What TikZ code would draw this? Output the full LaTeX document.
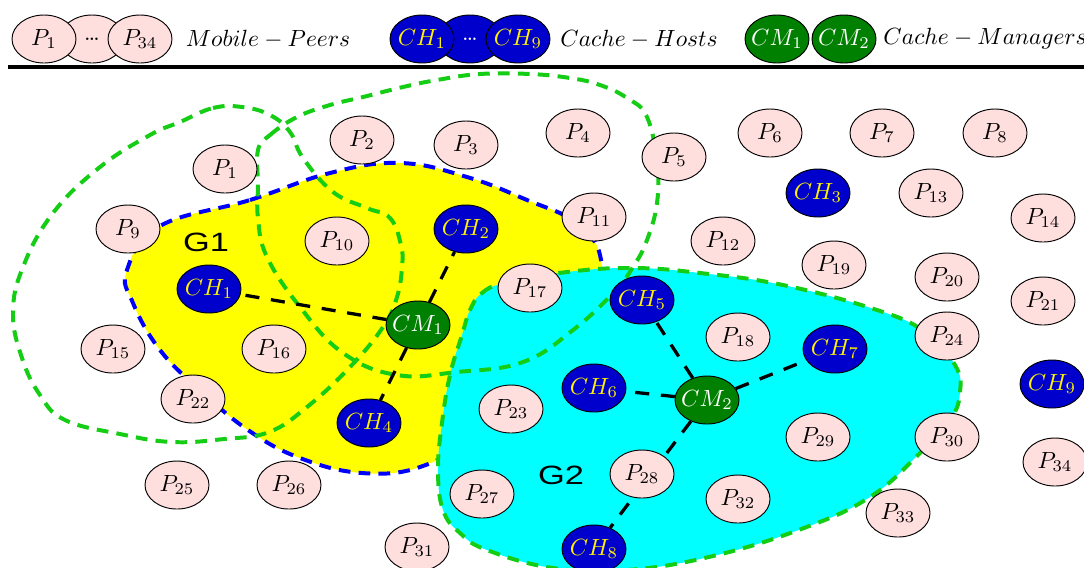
\documentclass[tikz,border=0pt]{standalone}
\usepackage{amsmath}
\usepackage{fontspec}
\newfontfamily\grpfont{Liberation Sans}
\usepackage{xcolor}
\definecolor{peerpink}{RGB}{255,222,222}
\definecolor{hostblue}{RGB}{0,0,204}
\definecolor{mgrgreen}{RGB}{0,128,0}
\definecolor{rangegreen}{RGB}{20,205,20}
\definecolor{grpblue}{RGB}{0,0,255}
\definecolor{grpyellow}{RGB}{255,255,0}
\definecolor{grpcyan}{RGB}{0,255,255}
\usepackage{tikz}
\usetikzlibrary{shapes.geometric}

\begin{document}
\begin{tikzpicture}[x=0.015cm, y=-0.015cm,
  peernode/.style={ellipse, draw=black, thin, fill=peerpink, minimum width=0.96cm,
                   minimum height=0.72cm, inner sep=0pt, inner xsep=-3pt},
  hostnode/.style={peernode, fill=hostblue, text=yellow},
  mgrnode/.style={peernode, fill=mgrgreen, text=white},
  ctrlink/.style={black, line width=1.4pt, dash pattern=on 6pt off 5pt},
  rangeline/.style={rangegreen, line width=1.7pt, dash pattern=on 5pt off 3.5pt},
  grplabel/.style={font=\grpfont\fontsize{11.3}{13}\selectfont}]

\useasboundingbox (0,0) rectangle (1084,567);

% === Legend ===
\node[peernode] (ldots) at (92,39) {\dots};
\node[peernode] (lp1) at (44,39) {$P_{1}$};
\node[peernode] (lp34) at (140,39) {$P_{34}$};
\node (lpeers) at (268,39) {$Mobile-Peers$};

\node[hostnode, text=white] (lhdots) at (470,39) {\dots};
\node[hostnode] (lch1) at (422,39) {$CH_{1}$};
\node[hostnode] (lch9) at (518,39) {$CH_{9}$};
\node (lhosts) at (639,39) {$Cache-Hosts$};

\node[mgrnode] (lcm1) at (777,39) {$CM_{1}$};
\node[mgrnode] (lcm2) at (844,39) {$CM_{2}$};
\node[anchor=west, inner sep=0pt] (lmgrs) at (883,39) {$Cache-Managers$};

\draw[line width=1.6pt] (8,67) -- (1084,67); % rule

% === Group G1 (yellow) ===
\filldraw[fill=grpyellow, draw=grpblue, line width=1.7pt, dash pattern=on 5pt off 3.5pt]
  plot[smooth cycle, tension=0.7] coordinates {(160,226) (250,200) (330,173) (400,163)
  (467,177) (527,200) (575,222) (600,255) (590,292) (520,320) (478,380) (458,440)
  (420,467) (362,473) (300,458) (248,430) (200,390) (160,350) (133,303) (127,270)};

% === Group G2 (cyan) ===
\filldraw[fill=grpcyan, draw=rangegreen, line width=1.7pt, dash pattern=on 5pt off 3.5pt]
  plot[smooth cycle, tension=0.7] coordinates {(470,310) (482,293) (505,283) (567,272)
  (633,268) (700,273) (783,285) (877,310) (925,332) (955,365) (960,392) (950,420)
  (918,455) (870,497) (804,528) (713,556) (627,570) (553,568) (487,550) (460,533)
  (443,510) (438,470) (442,423) (450,375) (462,335)};

% Transmission ranges
\draw[rangeline] plot[smooth cycle, tension=0.7] coordinates {(180,122) (213,108)
  (242,107) (270,115) (290,132) (303,158) (333,192) (367,208) (390,218) (401,245)
  (402,267) (397,297) (383,327) (350,367) (307,407) (269,432) (224,439) (172,442)
  (120,434) (65,420) (40,395) (22,358) (13,313) (23,267) (53,213) (100,167) (150,135)};
\draw[rangeline] plot[smooth cycle, tension=0.7] coordinates {(258,150) (270,135)
  (297,117) (330,105) (363,97) (403,87) (437,80) (480,74) (530,74) (570,78) (600,85)
  (627,98) (647,117) (657,163) (657,203) (647,240) (633,267) (613,293) (573,330)
  (523,362) (457,372) (397,375) (343,353) (300,307) (267,257) (258,218) (258,185)};

% === Cache hosts and managers ===
\node[hostnode] (ch1) at (209,289) {$CH_{1}$};
\node[hostnode] (ch2) at (466,229) {$CH_{2}$};
\node[hostnode] (ch3) at (818,193) {$CH_{3}$};
\node[hostnode] (ch4) at (369,423) {$CH_{4}$};
\node[hostnode] (ch5) at (642,300) {$CH_{5}$};
\node[hostnode] (ch6) at (594,388) {$CH_{6}$};
\node[hostnode] (ch7) at (835,349) {$CH_{7}$};
\node[hostnode] (ch8) at (594,549) {$CH_{8}$};
\node[hostnode] (ch9) at (1052,384) {$CH_{9}$};

\node[mgrnode] (cm1) at (418,325) {$CM_{1}$};
\node[mgrnode] (cm2) at (707,400) {$CM_{2}$};

% Manager links
\draw[ctrlink] (cm1) -- (ch1);
\draw[ctrlink] (cm1) -- (ch2);
\draw[ctrlink] (cm1) -- (ch4);
\draw[ctrlink] (cm2) -- (ch5);
\draw[ctrlink] (cm2) -- (ch6);
\draw[ctrlink] (cm2) -- (ch7);
\draw[ctrlink] (cm2) -- (ch8);

% === Mobile peers ===
\node[peernode] (p1) at (225,169) {$P_{1}$};
\node[peernode] (p2) at (362,140) {$P_{2}$};
\node[peernode] (p3) at (466,145) {$P_{3}$};
\node[peernode] (p4) at (578,133) {$P_{4}$};
\node[peernode] (p5) at (674,157) {$P_{5}$};
\node[peernode] (p6) at (770,133) {$P_{6}$};
\node[peernode] (p7) at (882,133) {$P_{7}$};
\node[peernode] (p8) at (995,133) {$P_{8}$};
\node[peernode] (p9) at (128,229) {$P_{9}$};
\node[peernode] (p10) at (337,241) {$P_{10}$};
\node[peernode] (p11) at (594,217) {$P_{11}$};
\node[peernode] (p12) at (723,241) {$P_{12}$};
\node[peernode] (p13) at (931,193) {$P_{13}$};
\node[peernode] (p14) at (1043,218) {$P_{14}$};
\node[peernode] (p15) at (113,349) {$P_{15}$};
\node[peernode] (p16) at (274,349) {$P_{16}$};
\node[peernode] (p17) at (530,288) {$P_{17}$};
\node[peernode] (p18) at (738,337) {$P_{18}$};
\node[peernode] (p19) at (834,265) {$P_{19}$};
\node[peernode] (p20) at (947,277) {$P_{20}$};
\node[peernode] (p21) at (1043,301) {$P_{21}$};
\node[peernode] (p22) at (193,399) {$P_{22}$};
\node[peernode] (p23) at (511,409) {$P_{23}$};
\node[peernode] (p24) at (947,336) {$P_{24}$};
\node[peernode] (p25) at (177,485) {$P_{25}$};
\node[peernode] (p26) at (289,485) {$P_{26}$};
\node[peernode] (p27) at (482,494) {$P_{27}$};
\node[peernode] (p28) at (642,474) {$P_{28}$};
\node[peernode] (p29) at (818,437) {$P_{29}$};
\node[peernode] (p30) at (947,437) {$P_{30}$};
\node[peernode] (p31) at (417,547) {$P_{31}$};
\node[peernode] (p32) at (738,499) {$P_{32}$};
\node[peernode] (p33) at (898,513) {$P_{33}$};
\node[peernode] (p34) at (1055,462) {$P_{34}$};

% Group labels
\node[grplabel] (g1) at (206,242) {\scalebox{1.3}[1]{G1}};
\node[grplabel] (g2) at (561,475) {\scalebox{1.3}[1]{G2}};

\end{tikzpicture}
\end{document}
